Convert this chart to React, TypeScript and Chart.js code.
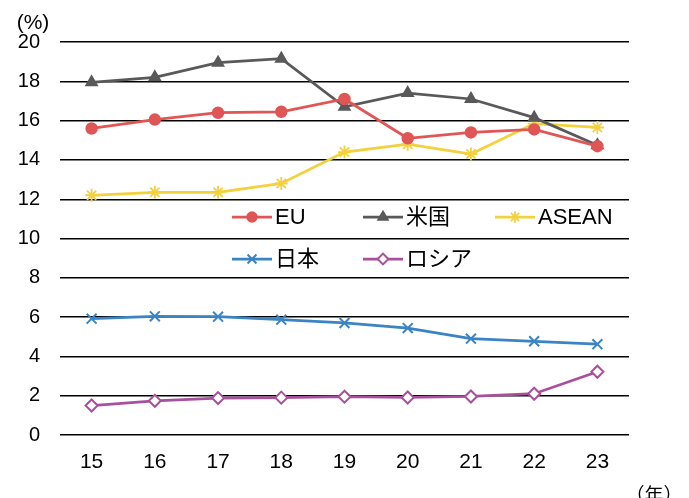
import React, { useEffect, useRef } from "react";
import { Chart, registerables } from "chart.js";
import { drawPoint } from "chart.js/helpers";

Chart.register(...registerables);

const years = ["15", "16", "17", "18", "19", "20", "21", "22", "23"];
const euValues = [15.6, 16.05, 16.4, 16.45, 17.1, 15.1, 15.4, 15.55, 14.7];
const usValues = [17.95, 18.2, 18.95, 19.15, 16.7, 17.4, 17.1, 16.15, 14.75];
const aseanValues = [12.2, 12.35, 12.35, 12.8, 14.4, 14.8, 14.3, 15.85, 15.65];
const japanValues = [5.92, 6.04, 6.02, 5.87, 5.7, 5.44, 4.9, 4.77, 4.62];
const russiaValues = [1.5, 1.74, 1.88, 1.9, 1.95, 1.91, 1.96, 2.1, 3.22];

const yUnit = "(%)";
const xUnit = "（年）";

const FONT = "'Liberation Sans', Arial, 'Noto Sans CJK JP', sans-serif";

const series = [
  { label: "EU", data: euValues, color: "#E05555", point: "circle", radius: 5.5, fill: "#E05555", pw: 1.5 },
  { label: "米国", data: usValues, color: "#595959", point: "triangle", radius: 6.5, fill: "#595959", pw: 1.5 },
  { label: "ASEAN", data: aseanValues, color: "#F2D13C", point: "star", radius: 6.5, fill: "#F2D13C", pw: 1.8 },
  { label: "日本", data: japanValues, color: "#3A84C4", point: "crossRot", radius: 7, fill: "#3A84C4", pw: 2 },
  { label: "ロシア", data: russiaValues, color: "#A8509C", point: "rectRot", radius: 6, fill: "#FFFFFF", pw: 2 },
];

// Legend sits inside the plot area in two rows
const legendSlots = [
  { x: 232, y: 217 },
  { x: 363, y: 217 },
  { x: 495, y: 217 },
  { x: 232, y: 259 },
  { x: 363, y: 259 },
];

const overlayPlugin = {
  id: "overlay",
  afterDatasetsDraw(chart: any) {
    const ctx = chart.ctx as CanvasRenderingContext2D;
    ctx.save();
    ctx.font = `22px ${FONT}`;
    ctx.textBaseline = "middle";
    series.forEach((s, i) => {
      const slot = legendSlots[i];
      ctx.strokeStyle = s.color;
      ctx.lineWidth = 2.75;
      ctx.beginPath();
      ctx.moveTo(slot.x, slot.y);
      ctx.lineTo(slot.x + 40, slot.y);
      ctx.stroke();
      ctx.fillStyle = s.fill;
      ctx.strokeStyle = s.color;
      ctx.lineWidth = s.pw;
      drawPoint(ctx, { pointStyle: s.point, radius: s.radius * 0.9, rotation: 0, borderWidth: s.pw } as any, slot.x + 20, slot.y);
      ctx.fillStyle = "#000";
      ctx.textAlign = "left";
      ctx.fillText(s.label, slot.x + 43, slot.y + 1);
    });
    ctx.fillStyle = "#000";
    ctx.font = `21px ${FONT}`;
    ctx.textAlign = "center";
    ctx.fillText(yUnit, 33, 23);
    ctx.font = `19px ${FONT}`;
    ctx.fillText(xUnit, 654, 497);
    ctx.restore();
  },
};

export default function App() {
  const ref = useRef<HTMLCanvasElement>(null);
  useEffect(() => {
    if (!ref.current) return;
    const chart = new Chart(ref.current, {
      type: "line",
      data: {
        labels: years,
        datasets: series.map((s) => ({
          label: s.label,
          data: s.data,
          borderColor: s.color,
          backgroundColor: s.fill,
          pointBackgroundColor: s.fill,
          pointBorderColor: s.color,
          pointBorderWidth: s.pw,
          pointStyle: s.point as any,
          pointRadius: s.radius,
          borderWidth: 2.75,
          tension: 0,
        })),
      },
      options: {
        animation: false,
        responsive: false,
        maintainAspectRatio: false,
        layout: { padding: { top: 42, right: 60, left: 0, bottom: 0 } },
        plugins: { legend: { display: false }, tooltip: { enabled: false } },
        scales: {
          x: {
            offset: true,
            grid: { display: false, drawTicks: false },
            border: { display: false },
            ticks: { color: "#000", font: { family: FONT, size: 21 }, padding: 15 },
            afterFit: (scale: any) => {
              scale.height = 63;
            },
          },
          y: {
            min: 0,
            max: 20,
            ticks: { stepSize: 2, color: "#000", font: { family: FONT, size: 20 }, padding: 20 },
            grid: { color: "#000", lineWidth: 1.4, drawTicks: false },
            border: { display: false },
            afterFit: (scale: any) => {
              scale.width = 60;
            },
          },
        },
      },
      plugins: [overlayPlugin],
    });
    return () => chart.destroy();
  }, []);
  return (
    <div style={{ position: "absolute", left: 0, top: 0, width: 689, height: 498, background: "#fff" }}>
      <canvas ref={ref} width={689} height={498} style={{ display: "block" }} />
    </div>
  );
}
